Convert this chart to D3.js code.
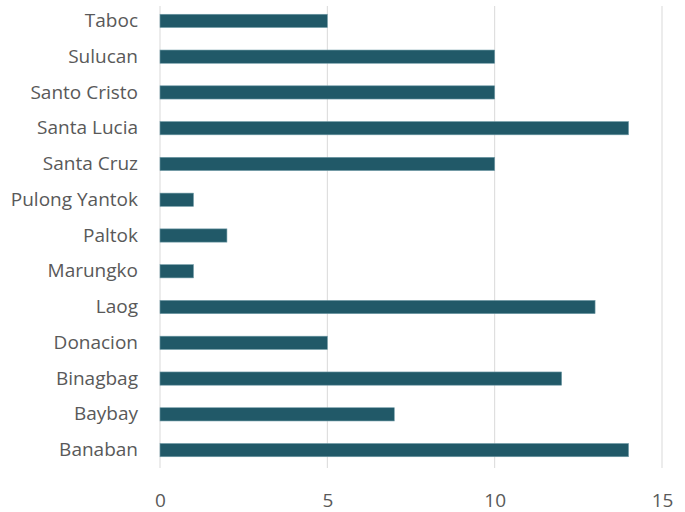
<!DOCTYPE html>
<html><head><meta charset="utf-8">
<script src="https://cdn.jsdelivr.net/npm/d3@7"></script>
<style>body{margin:0;background:#fff;} svg{display:block;}</style>
</head><body>
<svg id="chart" width="685" height="512"></svg>
<script>
const categories = ["Taboc","Sulucan","Santo Cristo","Santa Lucia","Santa Cruz","Pulong Yantok","Paltok","Marungko","Laog","Donacion","Binagbag","Baybay","Banaban"];
const values = [5,10,10,14,10,1,2,1,13,5,12,7,14];
const xTicks = [0,5,10,15];

const svg = d3.select("#chart");
const m = {left:160, right:23, top:3, bottom:44};
const W = 685, H = 512;
const x = d3.scaleLinear().domain([0,15]).range([m.left, W - m.right]);
const y = d3.scaleBand().domain(categories).range([m.top, H - m.bottom]).paddingInner(0.63).paddingOuter(0.315);
const font = "'Open Sans', sans-serif";

svg.append("g").selectAll("line").data(xTicks).join("line")
  .attr("x1", d => x(d)).attr("x2", d => x(d))
  .attr("y1", m.top + 3).attr("y2", H - m.bottom)
  .attr("stroke", "#d9d9d9").attr("stroke-width", 1);

svg.append("g").selectAll("rect").data(categories).join("rect")
  .attr("x", x(0)).attr("y", d => y(d))
  .attr("width", (d,i) => x(values[i]) - x(0))
  .attr("height", y.bandwidth())
  .attr("fill", "#215968").attr("stroke", "#6f9aa6").attr("stroke-width", 0.6);

const xAxis = svg.append("g").attr("transform", `translate(0,${H - m.bottom})`)
  .call(d3.axisBottom(x).tickValues(xTicks).tickSize(0).tickPadding(26));
xAxis.select(".domain").remove();
xAxis.selectAll("text").attr("font-family", font).attr("font-size", 19).attr("fill", "#595959");

const yAxis = svg.append("g").attr("transform", `translate(${m.left},0)`)
  .call(d3.axisLeft(y).tickSize(0).tickPadding(22));
yAxis.select(".domain").remove();
yAxis.selectAll("text").attr("font-family", font).attr("font-size", 19).attr("fill", "#595959");
</script>
</body></html>
